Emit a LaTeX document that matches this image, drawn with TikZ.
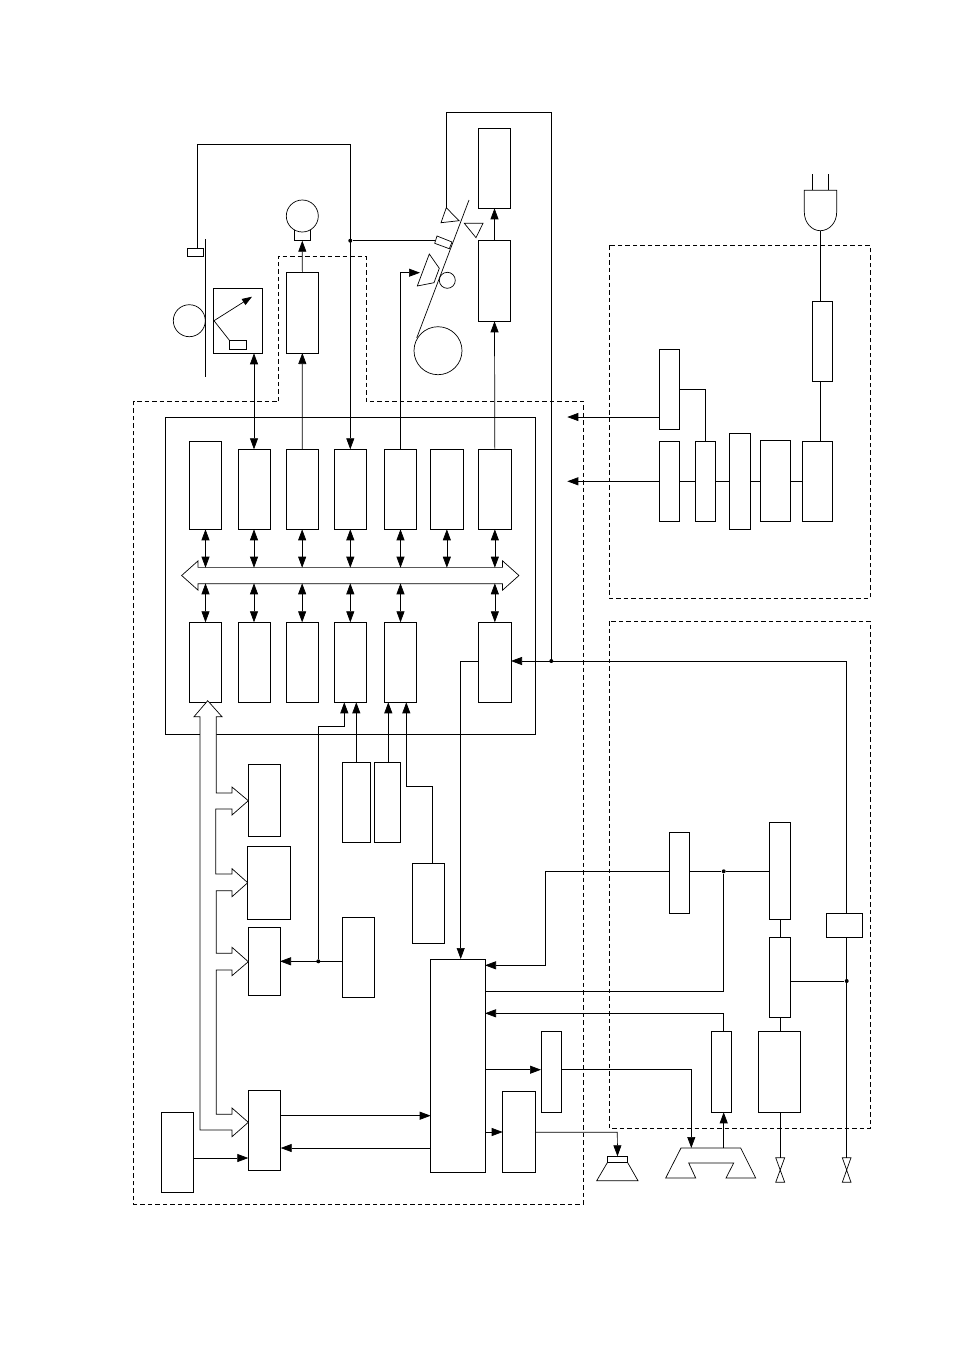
\documentclass[tikz,border=0pt]{standalone}
\usepackage{tikz}
\usetikzlibrary{arrows.meta,shapes.arrows,positioning}

\tikzset{
  >={Triangle[length=11pt,width=8pt]},
  blk/.style={draw,rectangle,inner sep=0pt,outer sep=0pt},
  wheel/.style={draw,circle,inner sep=0pt,outer sep=0pt},
  dot/.style={fill,circle,inner sep=0pt,minimum size=4pt},
  area/.style={dash pattern=on 4.5pt off 3pt},
}
% block given by its two corners
\newcommand{\blk}[5]{\node[blk,minimum width=#4pt-#2pt,minimum height=#5pt-#3pt] (#1) at ({(#2+#4)/2},{(#3+#5)/2}) {};}

\begin{document}
\begin{tikzpicture}[x=1pt,y=-1pt,line width=0.7pt]
    \useasboundingbox (0,0) rectangle (954,1350);

    % dashed areas
    \draw[area] (278,401.3) -- (278,256) -- (366,256) -- (366,401.3) -- (583.3,401.3) -- (583.3,1204.3) -- (133.7,1204.3) -- (133.7,401.3) -- cycle;
    \draw[area] (609.7,245) rectangle (870,598.5);
    \draw[area] (609.7,621) rectangle (870,1128.7);

    % control board
    \blk{board}{165.3}{417.3}{535.7}{734.3}
    \blk{upA}{189.3}{441.3}{221.7}{529.3}
    \blk{upB}{238}{449.3}{270}{529.3}
    \blk{upC}{286}{449.3}{318.3}{529.3}
    \blk{upD}{334.3}{449.3}{366.3}{529.3}
    \blk{upE}{384.3}{449.3}{416.7}{529.3}
    \blk{upF}{430.7}{449.3}{463}{529.3}
    \blk{upG}{478.7}{449.3}{511}{529.3}
    \blk{loA}{189.3}{622.3}{221.7}{702.3}
    \blk{loB}{238}{622.3}{270}{702.3}
    \blk{loC}{286}{622.3}{318.3}{702.3}
    \blk{loD}{334.3}{622.3}{366.3}{702.3}
    \blk{loE}{384.3}{622.3}{416.7}{702.3}
    \blk{loG}{478.7}{622.3}{511}{702.3}

    % bus
    \node[draw,double arrow,double arrow tip angle=83.6,double arrow head extend=6.5pt,inner xsep=0pt,inner ysep=7.8pt,outer sep=0pt,minimum height=337.3pt] (bus) at (350.3,575.5) {};
    \coordinate (busTop) at (350.3,567.7);
    \coordinate (busBot) at (350.3,583.3);
    \foreach \up in {upA,upB,upC,upD,upE,upF,upG}
      \draw[<->] (\up.south) -- (\up.south |- busTop);
    \foreach \lo in {loA,loB,loC,loD,loE,loG}
      \draw[<->] (\lo.north) -- (\lo.north |- busBot);

    % scanner side
    \node[wheel,minimum size=32pt] (scanRoll) at (189.3,320.7) {};
    \blk{scanBox}{213.7}{288.7}{262}{353.3}
    \blk{scanTab}{187.3}{248.7}{203.7}{256.7}
    \blk{scanLamp}{229.7}{340.7}{246}{349.3}
    \coordinate (scanEye) at (214,320.7);
    \coordinate (scanRay) at (252,296.7);
    \coordinate (paperA) at (205.3,239.3);
    \coordinate (paperB) at (205.3,376.7);
    \draw (paperA) -- (paperB);
    \draw[->,>={Triangle[length=10pt,width=7pt]}] (scanEye) -- (scanRay);
    \draw (scanEye) -- (scanLamp.north west);
    \draw[<->] (upB.north) -- (upB.north |- scanBox.south);
    \draw[->] (scanTab.north -| 197,0) -- (197,144) -- (350.3,144) -- (upD.north);

    % motor
    \node[wheel,minimum size=32pt] (motor) at (302.3,216) {};
    \coordinate (motorBase) at (302.3,240.7);
    \draw (294.3,230) -- (294.3,240.7) -- (310.7,240.7) -- (310.7,230);
    \blk{motorDrv}{286}{272.7}{318.7}{353}
    \draw[->] (motorDrv.north) -- (motorBase);
    \draw[->] (upC.north) -- (motorDrv.south);

    % printer side
    \node[wheel,minimum size=48pt] (paperRoll) at (438,350.7) {};
    \node[wheel,minimum size=16pt] (platen) at (447.3,280.3) {};
    \coordinate (beltTop) at (469,200);
    \coordinate (beltEnd) at (416.7,338);
    \draw (beltTop) -- (beltEnd);
    \draw (429.3,254) -- (439.3,268.3) -- (434,282.7) -- (417.3,286) -- cycle;
    \draw (437,236) -- (452,242) -- (449.3,248.7) -- (434.7,243.3) -- cycle;
    \draw (446.3,207.7) -- (459,220.7) -- (441,222.7) -- cycle;
    \draw (464.3,223.3) -- (483,223.3) -- (476,237.7) -- cycle;
    \coordinate (headIn) at (420,272.7);
    \coordinate (sensIn) at (434.5,240.7);
    \coordinate (triTop) at (446.3,207.7);
    \draw[->] (upE.north) -- (upE.north |- headIn) -- (headIn);
    \node[dot] (sensDot) at (350.3,240.7) {};
    \draw (sensDot) -- (sensIn);

    \blk{prtTop}{478.3}{128}{510.7}{208.3}
    \blk{prtDrv}{478.3}{240.3}{510.7}{321.3}
    \draw[->] (prtDrv.north) -- (prtTop.south);
    \draw[->] (upG.north) -- (prtDrv.south);

    % power supply
    \coordinate (plugEnd) at (820.3,230.7);
    \draw (812.3,174.3) -- (812.3,190.3);
    \draw (828.7,174.3) -- (828.7,190.3);
    \draw (804.3,190.3) -- (836.7,190.3) -- (836.7,212) .. controls (836.7,223) and (829,230.7) .. (plugEnd) .. controls (812,230.7) and (804.3,223) .. (804.3,212) -- cycle;
    \blk{fuse}{812.3}{301}{832.7}{381.3}
    \blk{psA}{659.3}{349.3}{679.7}{429.3}
    \blk{psB}{659.3}{441.3}{679.7}{521.3}
    \blk{psC}{695.3}{441.3}{715.7}{521.3}
    \blk{psD}{729.3}{433.3}{750.7}{529.3}
    \blk{psE}{760.3}{440.3}{790.7}{521.3}
    \blk{psF}{802.3}{441.3}{832.7}{521.3}
    \coordinate (psOutA) at (567.3,417);
    \coordinate (psOutB) at (567.3,481.3);
    \draw (plugEnd) -- (fuse.north -| plugEnd);
    \draw (fuse.south -| plugEnd) -- (psF.north -| plugEnd);
    \draw (psA.east |- 0,389.3) -| (psC.north);
    \draw[->] (psA.west |- psOutA) -- (psOutA);
    \draw[->] (psB.west) -- (psOutB);
    \draw (psB.east) -- (psC.west);
    \draw (psC.east) -- (psD.west |- psC.east);
    \draw (psD.east |- psC.east) -- (psE.west |- psC.east);
    \draw (psE.east |- psC.east) -- (psF.west);

    % memory and interface blocks
    \blk{memA}{248.3}{764.3}{280.3}{836.3}
    \blk{memB}{247.7}{846.3}{290}{919.3}
    \blk{memC}{248.3}{927.3}{280}{995.3}
    \blk{ifA}{248.3}{1090.3}{280.7}{1170.3}
    \blk{panel}{161.3}{1112}{193.7}{1192}
    \blk{senA}{342.3}{762.3}{370.3}{842.7}
    \blk{senB}{374.3}{762.3}{400.7}{842.7}
    \blk{senC}{412.3}{863.3}{444.3}{943.3}
    \blk{clock}{342.3}{917.3}{374.3}{997.3}

    % memory bus
    \draw[fill=white] (207.7,700.7) -- (222,716.7) -- (216.3,716.7) -- (216.3,793) -- (232,793) -- (232,787) -- (248.3,800.7) -- (232,815) -- (232,809) -- (215.7,809)
      -- (215.7,874) -- (232,874) -- (232,868.7) -- (247.7,882.7) -- (232,896.7) -- (232,890.7) -- (216.3,890.7)
      -- (216.3,953.3) -- (232,953.3) -- (232,947.3) -- (248.3,961.7) -- (232,975.7) -- (232,970) -- (216.3,970)
      -- (216.3,1114.3) -- (232,1114.3) -- (232,1108) -- (248.3,1122.3) -- (232,1136.7) -- (232,1130) -- (200,1130)
      -- (200,716.7) -- (194,716.7) -- cycle;

    \node[dot] (clockDot) at (318.3,961.3) {};
    \draw[->] (clock.west |- clockDot) -- (memC.east |- clockDot);
    \draw[->] (clockDot) -- (318.3,726.7) -- (344.3,726.7) -- (344.3,702.3);
    \draw[->] (senA.north -| 356.3,0) -- (356.3,702.3);
    \draw[->] (senB.north -| 388.3,0) -- (388.3,702.3);
    \draw[->] (senC.north -| 432.7,0) -- (432.7,786.3) -- (406.3,786.3) -- (406.3,702.3);

    % modem and line side
    \blk{modem}{430.7}{959}{485}{1172}
    \blk{amp}{541}{1031.3}{561}{1112}
    \blk{spk}{502.7}{1091.3}{535.7}{1172.3}
    \blk{rxAmp}{711.3}{1031.3}{731.3}{1112.3}
    \blk{nccA}{669.3}{832.3}{689.7}{913.3}
    \blk{nccB}{769.3}{822.3}{790.7}{919.3}
    \blk{nccC}{769.3}{937.3}{790.7}{1017.7}
    \blk{relay}{826.3}{913.3}{862.7}{937.3}
    \blk{trans}{758.3}{1031.3}{800.3}{1112.3}
    \draw[->] (ifA.east |- 0,1115.7) -- (modem.west |- 0,1115.7);
    \draw[->] (modem.west |- 0,1148) -- (ifA.east |- 0,1148);
    \draw[->] (panel.east |- 0,1158) -- (ifA.west |- 0,1158);
    \draw[->] (modem.east |- 0,1069.7) -- (amp.west |- 0,1069.7);
    \draw[->] (modem.east |- 0,1132) -- (spk.west |- 0,1132);
    \draw[->] (loG.west |- 0,661) -- (460.7,661) -- (460.7,959);

    % ring detect and call lines
    \node[dot] (sigDot) at (551.3,661) {};
    \draw[->] (relay.north -| 846.7,0) -- (846.7,661) -- (511,661);
    \draw (sigDot) -- (551.3,112.3) -- (446.3,112.3) -- (triTop);
    \node[dot] (lineDot) at (723.7,871.3) {};
    \node[dot] (nodeDot) at (846.7,981) {};
    \draw[->] (nccA.west |- lineDot) -- (545.3,871.3) -- (545.3,965.3) -- (485,965.3);
    \draw (nccA.east |- lineDot) -- (lineDot) -- (nccB.west |- lineDot);
    \draw (lineDot) -- (723.7,991.3) -- (modem.east |- 0,991.3);
    \draw[->] (723.7,1031.3) -- (723.7,1013.3) -- (485,1013.3);
    \draw (nccB.south -| 780.3,0) -- (nccC.north -| 780.3,0);
    \draw (nccC.south -| 780.3,0) -- (trans.north -| 780.3,0);
    \draw (nccC.east |- nodeDot) -- (nodeDot);

    % speaker
    \blk{spkTop}{607.3}{1156.3}{627.7}{1162.7}
    \draw (607.3,1162.7) -- (596.7,1180.7) -- (638,1180.7) -- (627.7,1162.7);
    \draw[->] (spk.east |- 0,1132.3) -- (617.3,1132.3) -- (spkTop.north);

    % handset
    \coordinate (hsIn) at (691.3,1148);
    \coordinate (hsOut) at (723.7,1148);
    \draw (681,1148) -- (740.7,1148) -- (755.7,1178) -- (726,1178) -- (733.7,1163) -- (688.7,1163) -- (695.7,1178) -- (665.7,1178) -- cycle;
    \draw[->] (amp.east |- 0,1069.7) -- (691.3,1069.7) -- (hsIn);
    \draw[->] (hsOut) -- (rxAmp.south -| hsOut);

    % line terminals
    \coordinate (termA) at (780.3,1157.7);
    \coordinate (termB) at (846.7,1157.7);
    \draw (775.7,1157.7) -- (784.7,1157.7) -- (775.7,1182.3) -- (784.7,1182.3) -- cycle;
    \draw (842.3,1157.7) -- (851,1157.7) -- (842.3,1182.3) -- (851,1182.3) -- cycle;
    \draw (trans.south -| termA) -- (termA);
    \draw (relay.south -| termB) -- (termB);
  \end{tikzpicture}
\end{document}
